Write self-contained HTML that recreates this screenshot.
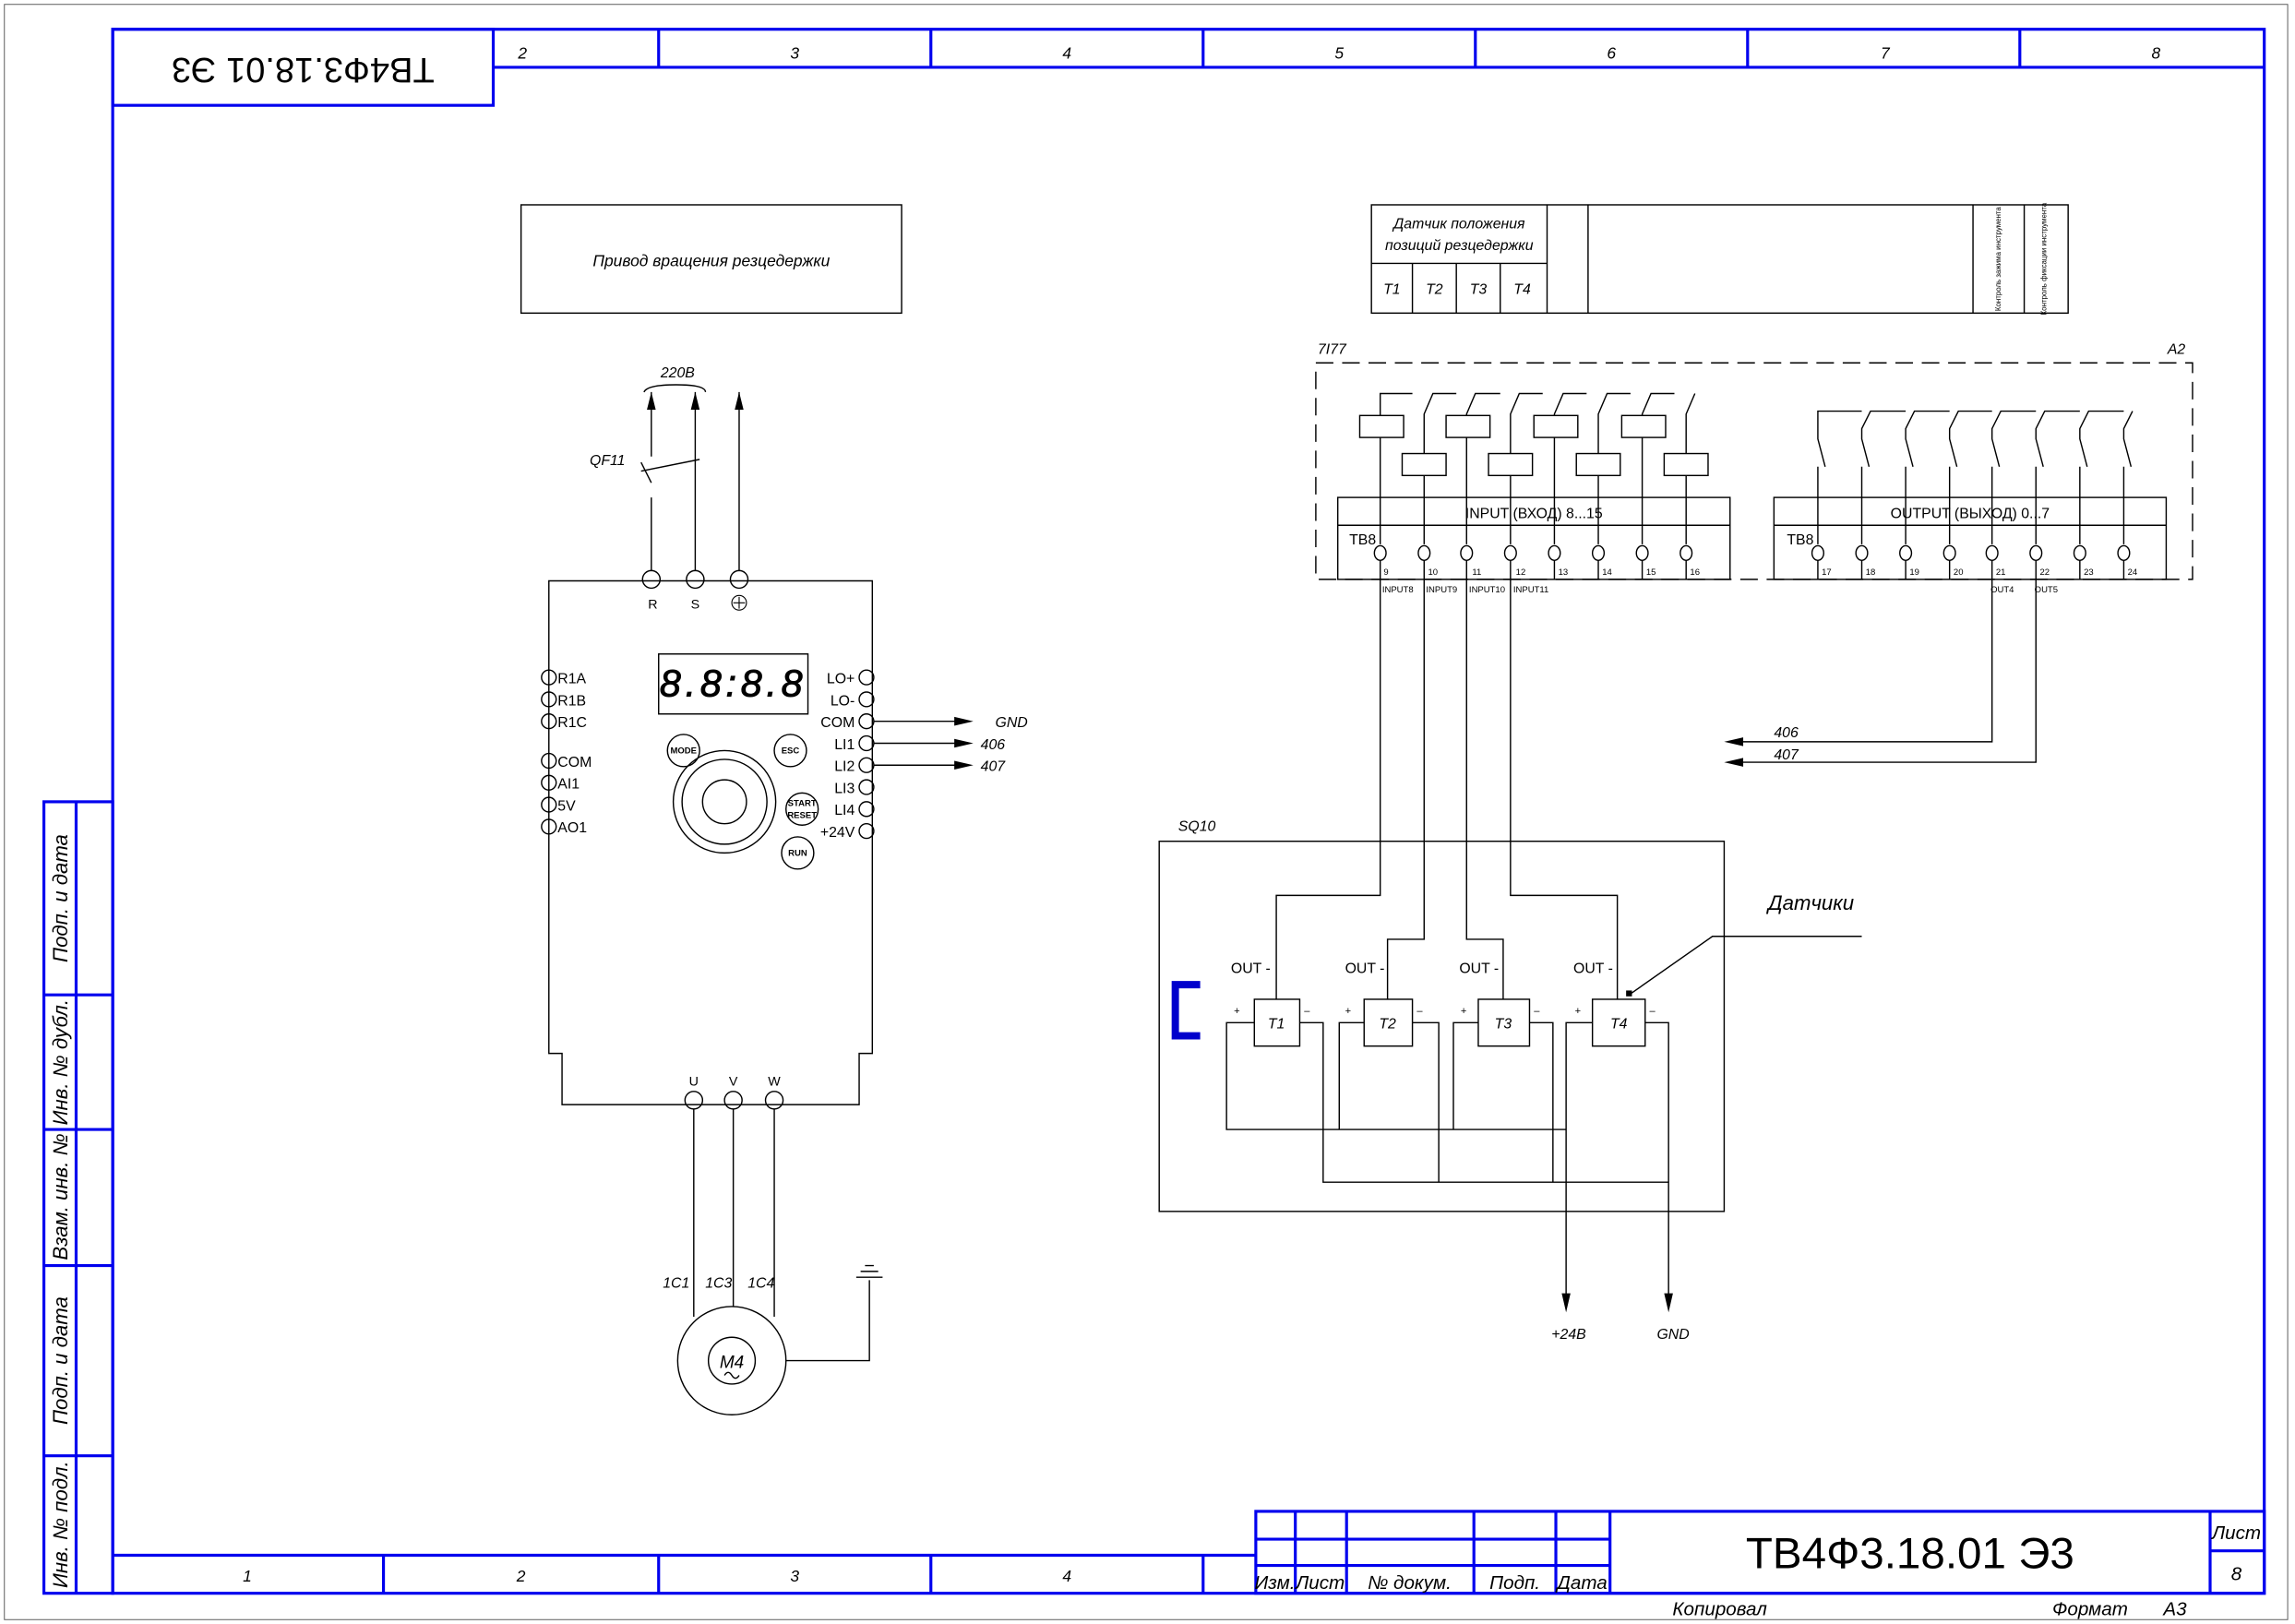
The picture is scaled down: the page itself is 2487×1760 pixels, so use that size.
<!DOCTYPE html>
<html><head><meta charset="utf-8"><style>
html,body{margin:0;padding:0;background:#fff}
svg{display:block}
text{font-family:"Liberation Sans",sans-serif;fill:#000}
.i{font-style:italic}
</style></head><body>
<svg width="2487" height="1760" viewBox="0 0 1568 1110" preserveAspectRatio="none" xmlns="http://www.w3.org/2000/svg">
<g fill="none" stroke="#000" stroke-width="0.8">
<rect x="3" y="3" width="1560" height="1104" stroke="#555" stroke-width="0.6"/>
</g>
<!-- blue frame -->
<g fill="none" stroke="#0000ee" stroke-width="2">
<rect x="77" y="20" width="1470" height="1069"/>
<line x1="337" y1="46" x2="1547" y2="46"/>
<rect x="77" y="20" width="260" height="52"/>
<line x1="450" y1="20" x2="450" y2="46"/><line x1="636" y1="20" x2="636" y2="46"/>
<line x1="822" y1="20" x2="822" y2="46"/><line x1="1008" y1="20" x2="1008" y2="46"/>
<line x1="1194" y1="20" x2="1194" y2="46"/><line x1="1380" y1="20" x2="1380" y2="46"/>
<line x1="77" y1="1063" x2="858" y2="1063"/>
<line x1="262" y1="1063" x2="262" y2="1089"/><line x1="450" y1="1063" x2="450" y2="1089"/>
<line x1="636" y1="1063" x2="636" y2="1089"/><line x1="822" y1="1063" x2="822" y2="1089"/>
<rect x="30" y="548" width="47" height="541"/>
<line x1="52" y1="548" x2="52" y2="1089"/>
<line x1="30" y1="680" x2="77" y2="680"/><line x1="30" y1="772" x2="77" y2="772"/>
<line x1="30" y1="865" x2="77" y2="865"/><line x1="30" y1="995" x2="77" y2="995"/>
<rect x="858" y="1033" width="689" height="56"/>
<line x1="885" y1="1033" x2="885" y2="1089"/><line x1="920" y1="1033" x2="920" y2="1089"/>
<line x1="1007" y1="1033" x2="1007" y2="1089"/><line x1="1063" y1="1033" x2="1063" y2="1089"/>
<line x1="1100" y1="1033" x2="1100" y2="1089"/>
<line x1="858" y1="1052" x2="1100" y2="1052"/><line x1="858" y1="1070" x2="1100" y2="1070"/>
<line x1="1510" y1="1033" x2="1510" y2="1089"/><line x1="1510" y1="1060" x2="1547" y2="1060"/>
</g>
<g class="i" font-size="11" text-anchor="middle" font-style="italic">
<text x="357" y="40">2</text><text x="543" y="40">3</text><text x="729" y="40">4</text><text x="915" y="40">5</text><text x="1101" y="40">6</text><text x="1288" y="40">7</text><text x="1473" y="40">8</text>
<text x="169" y="1081">1</text><text x="356" y="1081">2</text><text x="543" y="1081">3</text><text x="729" y="1081">4</text>
</g>
<text transform="translate(207,46) rotate(180)" text-anchor="middle" font-size="24" dominant-baseline="middle">ТВ4Ф3.18.01 Э3</text>
<g font-size="14" font-style="italic" text-anchor="middle">
<text transform="translate(46,614) rotate(-90)">Подп. и дата</text>
<text transform="translate(46,726) rotate(-90)">Инв. № дубл.</text>
<text transform="translate(46,818) rotate(-90)">Взам. инв. №</text>
<text transform="translate(46,930) rotate(-90)">Подп. и дата</text>
<text transform="translate(46,1042) rotate(-90)">Инв. № подл.</text>
</g>
<g font-size="13" font-style="italic" text-anchor="middle">
<text x="871" y="1086">Изм.</text><text x="902" y="1086">Лист</text><text x="963" y="1086">№ докум.</text>
<text x="1035" y="1086">Подп.</text><text x="1081" y="1086">Дата</text>
<text x="1528" y="1052">Лист</text><text x="1528" y="1080">8</text>
<text x="1175" y="1104">Копировал</text><text x="1428" y="1104">Формат</text><text x="1486" y="1104">А3</text>
</g>
<text x="1305" y="1072" font-size="30" text-anchor="middle">ТВ4Ф3.18.01 Э3</text>

<!-- left drive -->
<g fill="none" stroke="#000" stroke-width="0.9">
<rect x="356" y="140" width="260" height="74"/>
<path d="M375 397H596V720H587V755H384V720H375Z"/>
<circle cx="445" cy="396" r="6"/><circle cx="475" cy="396" r="6"/><circle cx="505" cy="396" r="6"/>
<path d="M445 390V340M445 330 L438 316M445 312V268 M475 390V268 M505 390V268"/>
<path d="M438 322 L478 314"/>
<path d="M440 268 Q442 263 462 263 Q482 263 482 268"/>
<rect x="450" y="447" width="102" height="41"/>
<circle cx="467" cy="513" r="11"/><circle cx="540" cy="513" r="11"/>
<circle cx="495" cy="548" r="35"/><circle cx="495" cy="548" r="29"/><circle cx="495" cy="548" r="15"/>
<circle cx="548" cy="553" r="11"/><circle cx="545" cy="583" r="11"/>
<g id="lc"><circle cx="375" cy="463" r="5"/><circle cx="375" cy="478" r="5"/><circle cx="375" cy="493" r="5"/><circle cx="375" cy="520" r="5"/><circle cx="375" cy="535" r="5"/><circle cx="375" cy="550" r="5"/><circle cx="375" cy="565" r="5"/></g>
<circle cx="592" cy="463" r="5"/><circle cx="592" cy="478" r="5"/><circle cx="592" cy="493" r="5"/><circle cx="592" cy="508" r="5"/><circle cx="592" cy="523" r="5"/><circle cx="592" cy="538" r="5"/><circle cx="592" cy="553" r="5"/><circle cx="592" cy="568" r="5"/>
<path d="M597 493H660M597 508H660M597 523H660"/>
<circle cx="474" cy="752" r="6"/><circle cx="501" cy="752" r="6"/><circle cx="529" cy="752" r="6"/>
<path d="M474 758 V900 M501 758V893 M529 758V900"/>
<circle cx="500" cy="930" r="37"/><circle cx="500" cy="930" r="16"/>
<path d="M537 930H594V875 M585 873H603 M588 869H600 M591 865H597"/>
<path d="M495 940 q2.5 -4 5 0 t5 0"/>
</g>
<g fill="#000">
<path d="M445 268l-3 12h6z M475 268l-3 12h6z M505 268l-3 12h6z"/>
<path d="M665 493l-13 -3v6z M665 508l-13 -3v6z M665 523l-13 -3v6z"/>
</g>
<text x="486" y="182" font-size="11" font-style="italic" text-anchor="middle">Привод вращения резцедержки</text>
<g font-size="10" font-style="italic" text-anchor="middle">
<text x="463" y="258">220В</text><text x="415" y="318">QF11</text>
<text x="462" y="880">1С1</text><text x="491" y="880">1С3</text><text x="520" y="880">1С4</text>
<text x="680" y="497" text-anchor="start">GND</text><text x="670" y="512" text-anchor="start">406</text><text x="670" y="527" text-anchor="start">407</text>
</g>
<text x="500" y="935" font-size="12" font-style="italic" text-anchor="middle">M4</text>
<g font-size="9" text-anchor="middle">
<text x="446" y="416">R</text><text x="475" y="416">S</text><text x="474" y="742">U</text><text x="501" y="742">V</text><text x="529" y="742">W</text>
</g>
<circle cx="505" cy="412" r="5" fill="none" stroke="#000" stroke-width="0.7"/><path d="M505 408v8M501 412h8" stroke="#000" stroke-width="0.7"/>
<g font-size="10">
<text x="381" y="467">R1A</text><text x="381" y="482">R1B</text><text x="381" y="497">R1C</text><text x="381" y="524">COM</text><text x="381" y="539">AI1</text><text x="381" y="554">5V</text><text x="381" y="569">AO1</text>
</g>
<g font-size="10" text-anchor="end">
<text x="584" y="467">LO+</text><text x="584" y="482">LO-</text><text x="584" y="497">COM</text><text x="584" y="512">LI1</text><text x="584" y="527">LI2</text><text x="584" y="542">LI3</text><text x="584" y="557">LI4</text><text x="584" y="572">+24V</text>
</g>
<g font-size="6" text-anchor="middle" font-weight="bold">
<text x="467" y="515">MODE</text><text x="540" y="515">ESC</text><text x="548" y="551">START</text><text x="548" y="559">RESET</text><text x="545" y="585">RUN</text>
</g>
<text x="501" y="476" font-size="26" font-style="italic" text-anchor="middle" fill="none" stroke="#000" stroke-width="0.6" letter-spacing="3">8.8:8.8</text>

<!-- right top header -->
<g fill="none" stroke="#000" stroke-width="0.9">
<rect x="937" y="140" width="476" height="74"/>
<path d="M937 180H1057M965 180V214M995 180V214M1025 180V214M1057 140V214M1085 140V214M1348 140V214M1383 140V214"/>
<path d="M899 248H1498V396H899Z" stroke-dasharray="12 6"/>
<rect x="914" y="340" width="268" height="56"/><line x1="914" y1="359" x2="1182" y2="359"/>
<rect x="1212" y="340" width="268" height="56"/><line x1="1212" y1="359" x2="1480" y2="359"/>
</g>
<g font-size="10" font-style="italic" text-anchor="middle">
<text x="997" y="156">Датчик положения</text><text x="997" y="171">позиций резцедержки</text>
<text x="951" y="201">T1</text><text x="980" y="201">T2</text><text x="1010" y="201">T3</text><text x="1040" y="201">T4</text>
<text x="910" y="242">7I77</text><text x="1487" y="242">A2</text>
</g>
<text transform="translate(1367,177) rotate(-90)" font-size="5" text-anchor="middle">Контроль зажима инструмента</text>
<text transform="translate(1398,177) rotate(-90)" font-size="5" text-anchor="middle">Контроль фиксации инструмента</text>
<g font-size="10" text-anchor="middle">
<text x="1048" y="354">INPUT (ВХОД) 8...15</text><text x="1346" y="354">OUTPUT (ВЫХОД) 0...7</text>
<text x="931" y="372">TB8</text><text x="1230" y="372">TB8</text>
</g>
<g fill="none" stroke="#000" stroke-width="0.9">
<!-- input relays -->
<path d="M943 372V269H965 M973 372V283 L979 269H995 M1002 372V283L1008 269H1025 M1032 372V283L1038 269H1054 M1062 372V283L1068 269H1084 M1092 372V283L1098 269H1114 M1122 372V283L1128 269H1144 M1152 372V283L1158 269"/>
<rect x="929" y="284" width="30" height="15" fill="#fff"/><rect x="988" y="284" width="30" height="15" fill="#fff"/><rect x="1048" y="284" width="30" height="15" fill="#fff"/><rect x="1108" y="284" width="30" height="15" fill="#fff"/>
<rect x="958" y="310" width="30" height="15" fill="#fff"/><rect x="1017" y="310" width="30" height="15" fill="#fff"/><rect x="1077" y="310" width="30" height="15" fill="#fff"/><rect x="1137" y="310" width="30" height="15" fill="#fff"/>
<!-- output switches -->
<path d="M1242 372V319 M1247 319L1242 300V281H1272 M1272 372V319 M1277 319L1272 300V293L1278 281H1302 M1302 372V319 M1307 319L1302 300V293L1308 281H1332 M1332 372V319 M1337 319L1332 300V293L1338 281H1361 M1361 372V319 M1366 319L1361 300V293L1367 281H1391 M1391 372V319 M1396 319L1391 300V293L1397 281H1421 M1421 372V319 M1426 319L1421 300V293L1427 281H1451 M1451 372V319 M1456 319L1451 300V293L1457 281"/>
<g fill="#fff">
<ellipse cx="943" cy="378" rx="4" ry="5"/><ellipse cx="973" cy="378" rx="4" ry="5"/><ellipse cx="1002" cy="378" rx="4" ry="5"/><ellipse cx="1032" cy="378" rx="4" ry="5"/><ellipse cx="1062" cy="378" rx="4" ry="5"/><ellipse cx="1092" cy="378" rx="4" ry="5"/><ellipse cx="1122" cy="378" rx="4" ry="5"/><ellipse cx="1152" cy="378" rx="4" ry="5"/>
<ellipse cx="1242" cy="378" rx="4" ry="5"/><ellipse cx="1272" cy="378" rx="4" ry="5"/><ellipse cx="1302" cy="378" rx="4" ry="5"/><ellipse cx="1332" cy="378" rx="4" ry="5"/><ellipse cx="1361" cy="378" rx="4" ry="5"/><ellipse cx="1391" cy="378" rx="4" ry="5"/><ellipse cx="1421" cy="378" rx="4" ry="5"/><ellipse cx="1451" cy="378" rx="4" ry="5"/>
</g>
<path d="M943 383V396M973 383V396M1002 383V396M1032 383V396M1062 383V396M1092 383V396M1122 383V396M1152 383V396M1242 383V396M1272 383V396M1302 383V396M1332 383V396M1361 383V396M1391 383V396M1421 383V396M1451 383V396"/>
<!-- wires down -->
<path d="M943 396V612H872V683 M973 396V642H948V683 M1002 396V642H1027V683 M1032 396V612H1105V683"/>
<path d="M1361 396V507H1185 M1391 396V521H1185"/>
<rect x="792" y="575" width="386" height="253"/>
<rect x="857" y="683" width="31" height="32" fill="#fff"/><rect x="932" y="683" width="33" height="32" fill="#fff"/><rect x="1010" y="683" width="35" height="32" fill="#fff"/><rect x="1088" y="683" width="36" height="32" fill="#fff"/>
<path d="M857 699H838V772H1070 M888 699H904V808H1140 M932 699H915V772 M965 699H983V808 M1010 699H993V772 M1045 699H1061V808 M1088 699H1070V885 M1124 699H1140V885"/>
<path d="M1113 680L1170 640H1210H1272"/>
</g>
<g fill="#000">
<path d="M1178 507l13 -3v6z M1178 521l13 -3v6z M1070 897l-3 -13h6z M1140 897l-3 -13h6z"/>
<rect x="1111" y="677" width="4" height="4"/>
</g>
<path d="M820 673H803V708H820" fill="none" stroke="#0000cc" stroke-width="5"/>
<g font-size="6" text-anchor="middle">
<text x="947" y="393">9</text><text x="979" y="393">10</text><text x="1009" y="393">11</text><text x="1039" y="393">12</text><text x="1068" y="393">13</text><text x="1098" y="393">14</text><text x="1128" y="393">15</text><text x="1158" y="393">16</text>
<text x="1248" y="393">17</text><text x="1278" y="393">18</text><text x="1308" y="393">19</text><text x="1338" y="393">20</text><text x="1367" y="393">21</text><text x="1397" y="393">22</text><text x="1427" y="393">23</text><text x="1457" y="393">24</text>
<text x="955" y="405">INPUT8</text><text x="985" y="405">INPUT9</text><text x="1016" y="405">INPUT10</text><text x="1046" y="405">INPUT11</text>
<text x="1368" y="405">OUT4</text><text x="1398" y="405">OUT5</text>
</g>
<g font-size="10" font-style="italic">
<text x="1212" y="504">406</text><text x="1212" y="519">407</text>
<text x="805" y="568">SQ10</text>
<text x="1208" y="622" font-size="14">Датчики</text>
<text x="1060" y="915">+24В</text><text x="1132" y="915">GND</text>
</g>
<g font-size="10">
<text x="841" y="665">OUT -</text><text x="919" y="665">OUT -</text><text x="997" y="665">OUT -</text><text x="1075" y="665">OUT -</text>
<text x="872" y="703" font-style="italic" text-anchor="middle">T1</text><text x="948" y="703" font-style="italic" text-anchor="middle">T2</text><text x="1027" y="703" font-style="italic" text-anchor="middle">T3</text><text x="1106" y="703" font-style="italic" text-anchor="middle">T4</text>
<text x="843" y="693" font-size="7">+</text><text x="891" y="693" font-size="7">–</text><text x="919" y="693" font-size="7">+</text><text x="968" y="693" font-size="7">–</text><text x="998" y="693" font-size="7">+</text><text x="1048" y="693" font-size="7">–</text><text x="1076" y="693" font-size="7">+</text><text x="1127" y="693" font-size="7">–</text>
</g>
</svg>
</body></html>
